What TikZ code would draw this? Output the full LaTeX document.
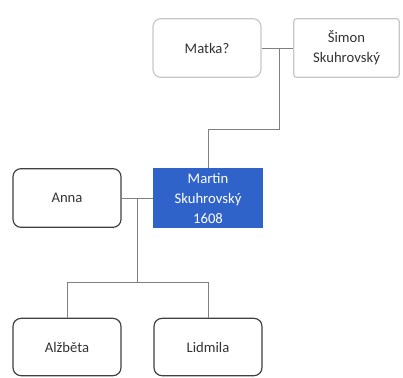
\documentclass[tikz,border=0pt]{standalone}
\usepackage{fontspec}
\setmainfont{Carlito}
\definecolor{martinblue}{HTML}{2F63C9}
\begin{document}
\begin{tikzpicture}[x=0.75pt,y=-0.75pt,
        person/.style={draw=black!75,line width=0.9pt,rounded corners=6pt,
            minimum width=81pt,minimum height=44pt,align=center,
            text=black!80,font=\fontsize{11}{15}\selectfont},
        faint/.style={person,draw=black!22},
        link/.style={draw=black!50,line width=0.6pt}]
    \useasboundingbox (0,0) rectangle (403,378);
    %% parents
    \node[faint] (matka) at (207,48) {Matka?};
    \node[faint,rounded corners=2pt,minimum width=79pt] (simon) at (346.5,48) {Šimon\\Skuhrovský};
    %% couple
    \node[person] (anna) at (67,198) {Anna};
    \node[person,fill=martinblue,draw=martinblue,rounded corners=0pt,text=white] (martin) at (208,198) {Martin\\Skuhrovský\\1608};
    %% children
    \node[person,minimum height=43pt] (alzbeta) at (67,347) {Alžběta};
    \node[person,minimum height=43pt] (lidmila) at (208,347) {Lidmila};
    %% lines between them
    \coordinate (top) at (279,48);
    \coordinate (mid) at (137,198);
    \draw[link] (matka.east) -- (simon.west);
    \draw[link] (top) -- ++(0,81) -| (martin.north);
    \draw[link] (anna.east) -- (martin.west);
    \draw[link] (mid) -- ++(0,84) coordinate (fork);
    \draw[link] (fork) -| (alzbeta.north);
    \draw[link] (fork) -| (lidmila.north);
\end{tikzpicture}
\end{document}
